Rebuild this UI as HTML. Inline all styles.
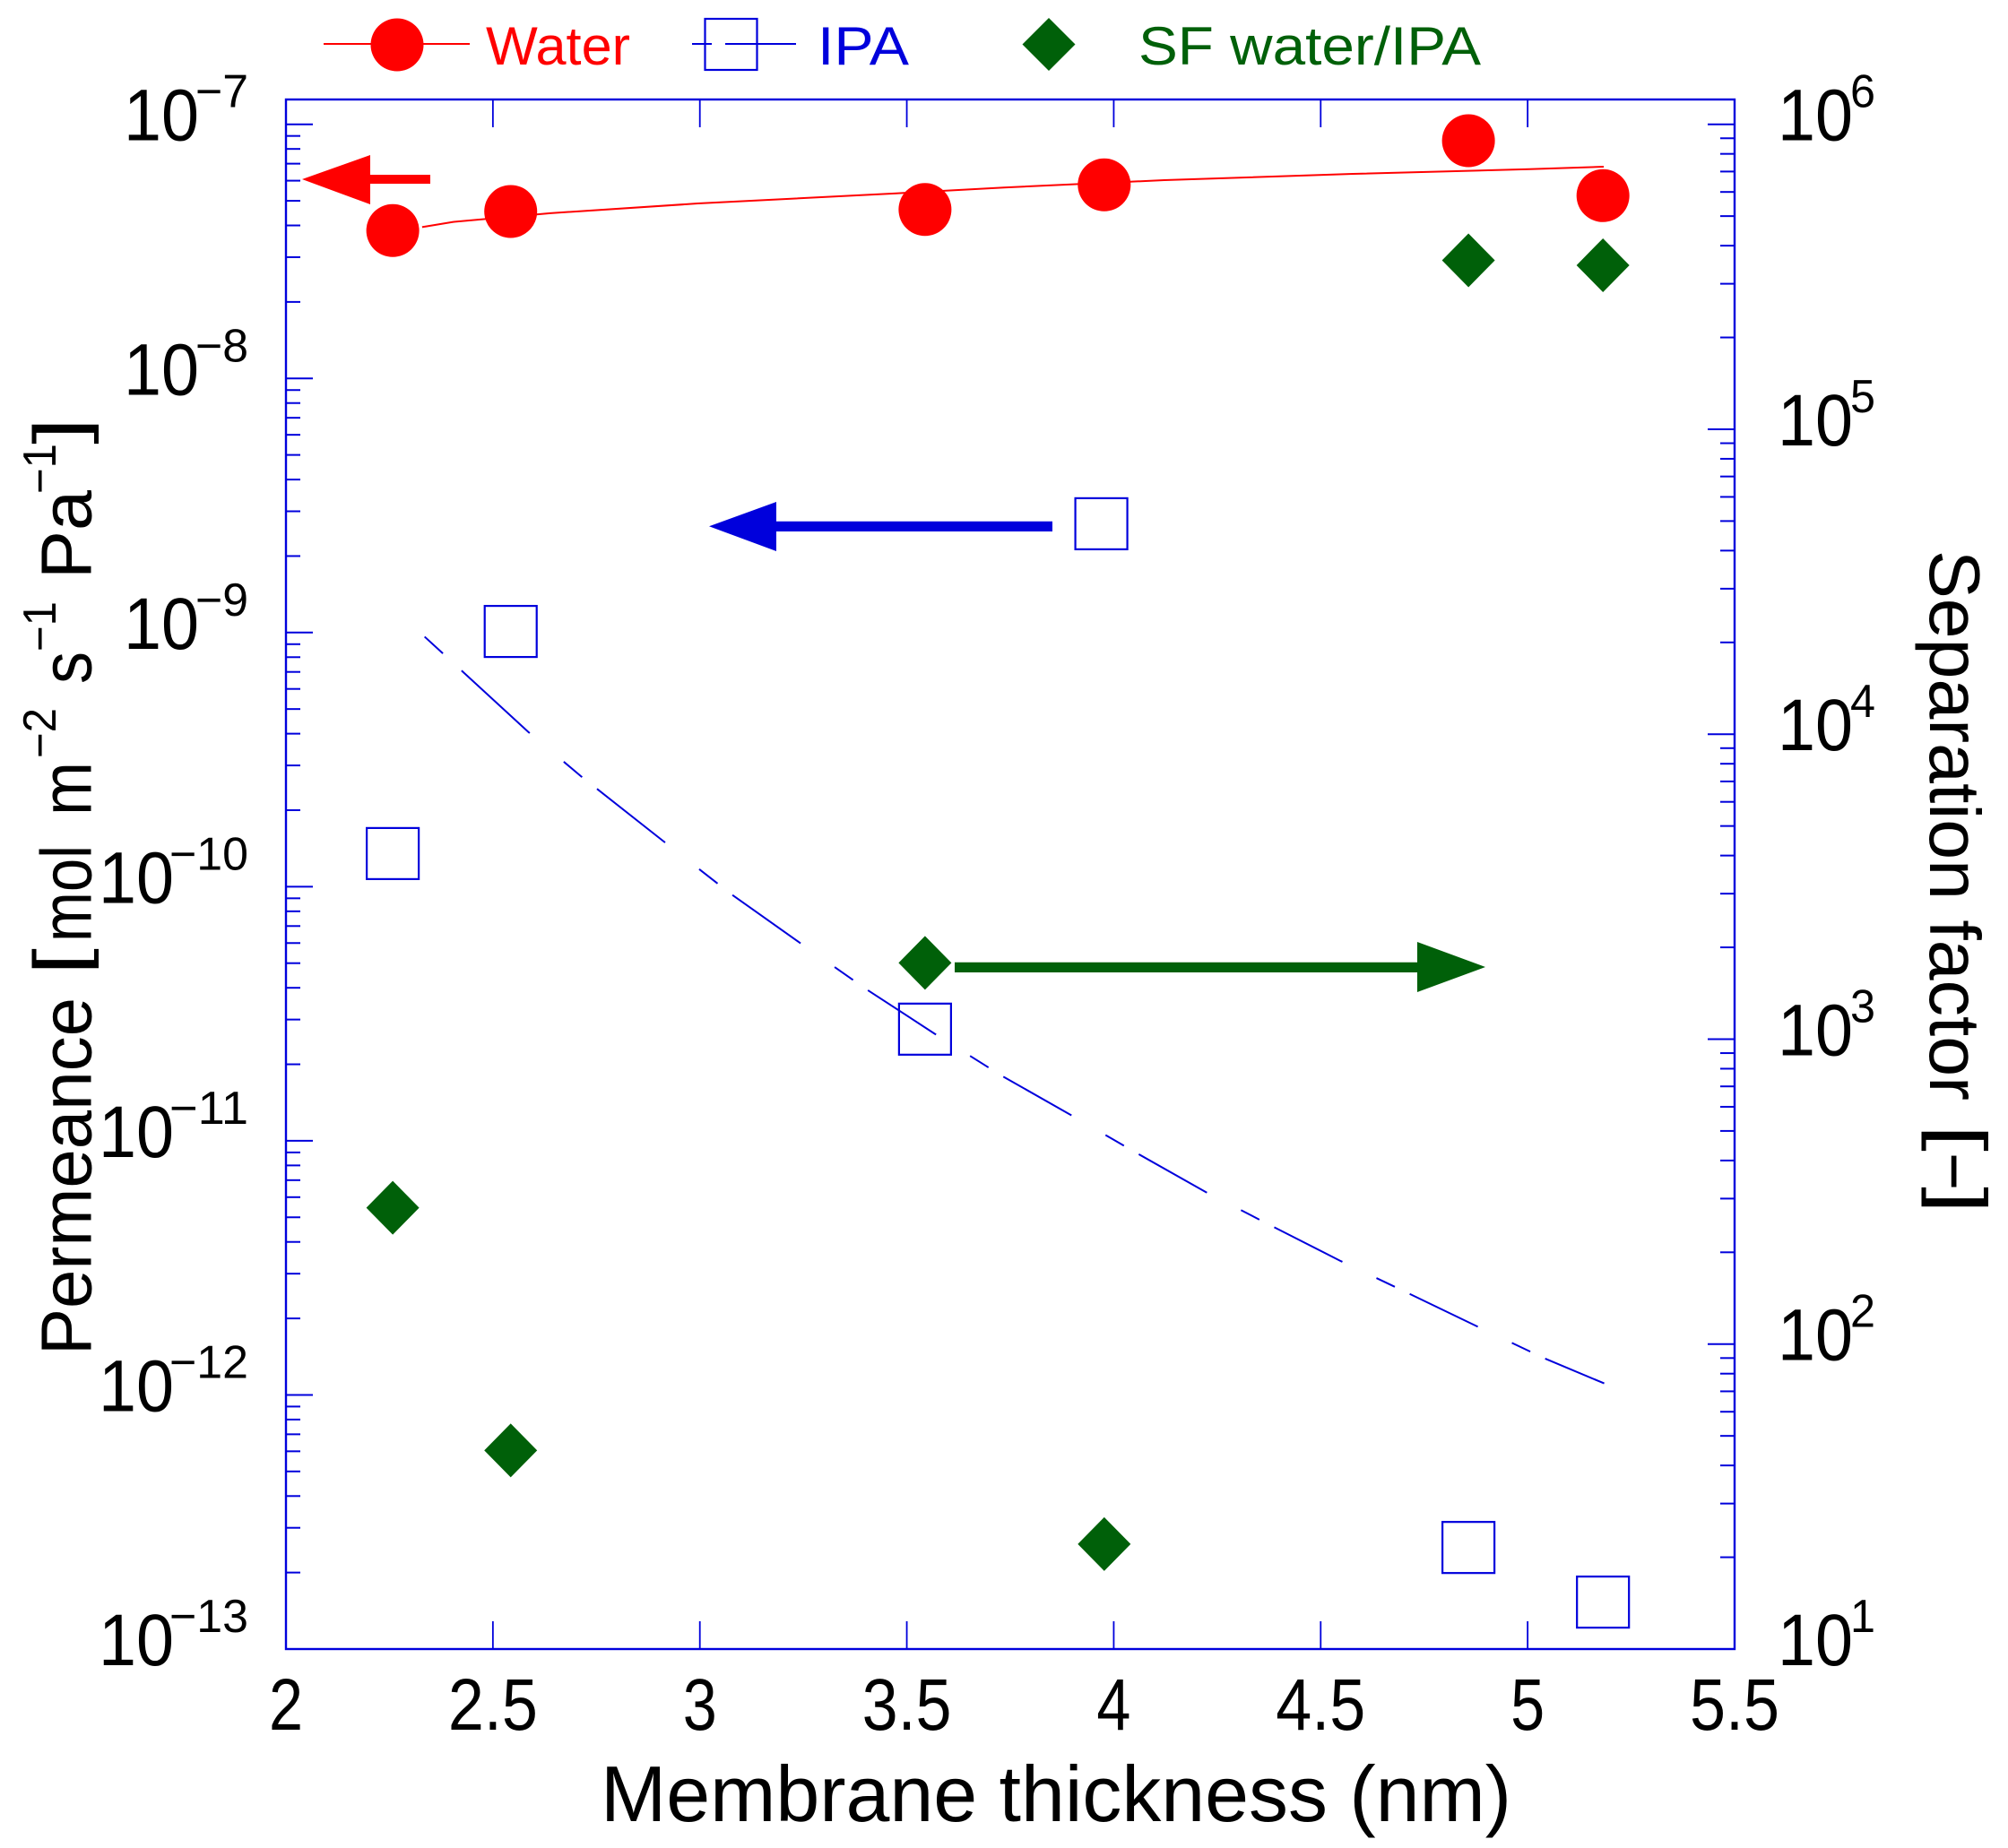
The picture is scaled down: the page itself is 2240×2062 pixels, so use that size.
<!DOCTYPE html>
<html lang="en">
<head>
<meta charset="utf-8">
<title>Permeance and separation factor vs membrane thickness</title>
<style>
html,body{margin:0;padding:0;background:#fff}
svg{display:block}
text{font-family:"Liberation Sans",sans-serif}
</style>
</head>
<body>
<svg id="chart" xmlns="http://www.w3.org/2000/svg" width="2240" height="2062" viewBox="0 0 2240 2062">
  <rect x="0" y="0" width="2240" height="2062" fill="#fff"/>

  <g>
    <g>
      <line x1="361" y1="49" x2="524" y2="49" stroke="#ff0000" stroke-width="2"/>
      <circle cx="443" cy="50" r="29.5" fill="#ff0000"/>
      <text x="542" y="72" font-size="60" fill="#ff0000" textLength="161" lengthAdjust="spacingAndGlyphs">Water</text>
    </g>
    <g>
      <line x1="772" y1="49" x2="794" y2="49" stroke="#0000dc" stroke-width="2"/>
      <line x1="809" y1="49" x2="888" y2="49" stroke="#0000dc" stroke-width="2"/>
      <rect x="786.5" y="21" width="58" height="57" fill="none" stroke="#0000dc" stroke-width="2.2"/>
      <text x="912" y="72" font-size="60" fill="#0000dc" textLength="102" lengthAdjust="spacingAndGlyphs">IPA</text>
    </g>
    <g>
      <polygon points="1170,20 1199.500,49.500 1170,79 1140.500,49.500" fill="#006009"/>
      <text x="1270" y="72" font-size="60" fill="#006009" textLength="382" lengthAdjust="spacingAndGlyphs">SF water/IPA</text>
    </g>
  </g>

  <g id="axes"></g>
  <g id="series"></g>

  <g>
    <polygon points="337,200 413,173 413,195 480,195 480,205 413,205 413,228" fill="#ff0000"/>
    <polygon points="791,587.300 866,560 866,581.700 1174,581.700 1174,593 866,593 866,615" fill="#0000dc"/>
    <polygon points="1657,1079 1581,1051 1581,1073.700 1065,1073.700 1065,1085 1581,1085 1581,1107" fill="#006009"/>
  </g>

  <text x="670" y="2032" font-size="88" fill="#000" textLength="1016" lengthAdjust="spacingAndGlyphs">Membrane thickness (nm)</text>

  <g fill="#000">
    <text transform="translate(101.700,1512) rotate(-90)" font-size="80" textLength="399" lengthAdjust="spacingAndGlyphs">Permeance</text>
    <text transform="translate(93.700,1088) rotate(-90)" font-size="80" textLength="30" lengthAdjust="spacingAndGlyphs">[</text>
    <text transform="translate(101.700,1051) rotate(-90)" font-size="80" textLength="108" lengthAdjust="spacingAndGlyphs">mol</text>
    <text transform="translate(101.700,910) rotate(-90)" font-size="80" textLength="60" lengthAdjust="spacingAndGlyphs">m</text>
    <text transform="translate(62,846) rotate(-90)" font-size="52" textLength="56" lengthAdjust="spacingAndGlyphs">−2</text>
    <text transform="translate(101.700,763) rotate(-90)" font-size="80" textLength="36" lengthAdjust="spacingAndGlyphs">s</text>
    <text transform="translate(62,727) rotate(-90)" font-size="52" textLength="56" lengthAdjust="spacingAndGlyphs">−1</text>
    <text transform="translate(101.700,646) rotate(-90)" font-size="80" textLength="99" lengthAdjust="spacingAndGlyphs">Pa</text>
    <text transform="translate(62,551) rotate(-90)" font-size="52" textLength="56" lengthAdjust="spacingAndGlyphs">−1</text>
    <text transform="translate(93.700,496) rotate(-90)" font-size="80" textLength="30" lengthAdjust="spacingAndGlyphs">]</text>
  </g>

  <g fill="#000">
    <text transform="translate(2153,614) rotate(90)" font-size="80" textLength="614" lengthAdjust="spacingAndGlyphs">Separation factor</text>
    <text transform="translate(2160,1255) rotate(90)" font-size="80" textLength="30" lengthAdjust="spacingAndGlyphs">[</text>
    <text transform="translate(2153,1286) rotate(90)" font-size="80" textLength="42" lengthAdjust="spacingAndGlyphs">−</text>
    <text transform="translate(2160,1324) rotate(90)" font-size="80" textLength="30" lengthAdjust="spacingAndGlyphs">]</text>
  </g>
</svg>
<script>
// ---- chart data ----
const thickness = [2.258, 2.543, 3.544, 3.977, 4.857, 5.182];
const ipaThickness = [2.258, 2.543, 3.544, 3.970, 4.857, 5.182];
const waterPermeance = [3.82e-8, 4.54e-8, 4.62e-8, 5.78e-8, 8.62e-8, 5.24e-8];
const ipaPermeance = [1.35e-10, 1.01e-9, 2.75e-11, 2.68e-9, 2.51e-13, 1.53e-13];
const separationFactor = [280, 44.8, 1779, 22.1, 3.58e5, 3.45e5];

const waterFitThickness = [2.329, 2.404, 2.639, 2.995, 3.475, 3.735, 4.122, 4.578, 5.004, 5.184];
const waterFitPermeance = [3.94e-8, 4.13e-8, 4.47e-8, 4.88e-8, 5.35e-8, 5.64e-8, 6.03e-8, 6.38e-8, 6.66e-8, 6.81e-8];

const ipaFitThickness = [2.335, 2.424, 2.585, 2.714, 2.912, 3.074, 3.240, 3.398, 3.567, 3.730, 3.894, 4.058, 4.222, 4.383, 4.549, 4.708, 4.878, 5.042, 5.185];
const ipaFitPermeance = [9.63e-10, 7.09e-10, 4.07e-10, 2.71e-10, 1.51e-10, 9.39e-11, 6.04e-11, 3.99e-11, 2.64e-11, 1.80e-11, 1.27e-11, 8.90e-12, 6.29e-12, 4.61e-12, 3.36e-12, 2.53e-12, 1.86e-12, 1.39e-12, 1.11e-12];

const xTickValues = [2, 2.5, 3, 3.5, 4, 4.5, 5, 5.5];
const xTickLabels = ['2', '2.5', '3', '3.5', '4', '4.5', '5', '5.5'];
const leftDecades = [-7, -8, -9, -10, -11, -12, -13];
const rightDecades = [6, 5, 4, 3, 2, 1];
const minorMultipliers = [2, 3, 4, 5, 6, 7, 8, 9];

// ---- axis functions ----
const PLOT_L = 319, PLOT_R = 1935, PLOT_T = 111, PLOT_B = 1840;
const AXIS_BLUE = '#0000dc', RED = '#ff0000', GREEN = '#006009';
const xScale = t => PLOT_L + (t - 2) * (PLOT_R - PLOT_L) / 3.5;
const yLeft = v => 138.7 + (-7 - Math.log10(v)) * 283.55;
const yRight = v => 138.7 + (6 - Math.log10(v)) * 340.26;

const SVGNS = 'http://www.w3.org/2000/svg';
const axes = document.getElementById('axes');
const series = document.getElementById('series');
function mk(parent, tag, attrs, txt) {
  const el = document.createElementNS(SVGNS, tag);
  for (const k in attrs) el.setAttribute(k, attrs[k]);
  if (txt !== undefined) el.textContent = txt;
  parent.appendChild(el);
  return el;
}

// ---- frame ----
let el = mk(axes, 'rect', {x: PLOT_L, y: PLOT_T, width: PLOT_R - PLOT_L, height: PLOT_B - PLOT_T, fill: 'none', stroke: AXIS_BLUE, 'stroke-width': 2.4});



// ---- x ticks ----
xTickValues.forEach((t, i) => {
  const x = xScale(t);
  if (t > 2 && t < 5.5) {
    let tk = mk(axes, 'line', {x1: x, x2: x, y1: PLOT_T, y2: PLOT_T + 31, stroke: AXIS_BLUE, 'stroke-width': 1.8});
    
    
    tk = mk(axes, 'line', {x1: x, x2: x, y1: PLOT_B, y2: PLOT_B - 31, stroke: AXIS_BLUE, 'stroke-width': 1.8});
    
    
  }
  const s = xTickLabels[i];
  const lab = mk(axes, 'text', {x: x, y: 1930, 'text-anchor': 'middle', 'font-size': 82, fill: '#000', textLength: s.length > 1 ? 100 : 38, lengthAdjust: 'spacingAndGlyphs'}, s);
  
  
});

// ---- y ticks (left = permeance, right = separation factor) ----
function yTicks(decades, scale, xAxis, dir, side) {
  decades.forEach(d => {
    const major = mk(axes, 'line', {x1: xAxis, x2: xAxis + dir * 30, y1: scale(Math.pow(10, d)), y2: scale(Math.pow(10, d)), stroke: AXIS_BLUE, 'stroke-width': 2});
    
    
    if (d === decades[0]) return;
    minorMultipliers.forEach(m => {
      const y = scale(m * Math.pow(10, d));
      const minor = mk(axes, 'line', {x1: xAxis, x2: xAxis + dir * 16, y1: y, y2: y, stroke: AXIS_BLUE, 'stroke-width': 2});
      
      
    });
  });
}
yTicks(leftDecades, yLeft, PLOT_L, 1, 'left');
yTicks(rightDecades, yRight, PLOT_R, -1, 'right');

// ---- y tick labels ----
leftDecades.forEach(d => {
  const y = yLeft(Math.pow(10, d));
  const expStr = '−' + Math.abs(d);
  const two = Math.abs(d) >= 10;
  const base = mk(axes, 'text', {x: two ? 110 : 138, y: y + 18, 'font-size': 82, fill: '#000', textLength: 84, lengthAdjust: 'spacingAndGlyphs'}, '10');
  
  
  const exp = mk(axes, 'text', {x: 277, y: y - 19, 'text-anchor': 'end', 'font-size': 52, fill: '#000', textLength: two ? 88 : 59, lengthAdjust: 'spacingAndGlyphs'}, expStr);
  
  
});
rightDecades.forEach(d => {
  const y = yRight(Math.pow(10, d));
  const base = mk(axes, 'text', {x: 1983, y: y + 18, 'font-size': 82, fill: '#000', textLength: 84, lengthAdjust: 'spacingAndGlyphs'}, '10');
  
  
  const exp = mk(axes, 'text', {x: 2064, y: y - 19, 'font-size': 52, fill: '#000', textLength: 28, lengthAdjust: 'spacingAndGlyphs'}, String(d));
  
  
});

// ---- fit lines ----
const waterFitPoints = waterFitThickness.map((t, i) => xScale(t) + ',' + yLeft(waterFitPermeance[i])).join(' ');
const waterFit = mk(series, 'polyline', {points: waterFitPoints, fill: 'none', stroke: RED, 'stroke-width': 2});



// The IPA fit is dashed with a pattern measured along the horizontal axis.
function curveAt(px, xs, ys) {
  for (let i = 1; i < xs.length; i++) {
    if (px <= xs[i]) {
      const f = (px - xs[i - 1]) / (xs[i] - xs[i - 1]);
      return ys[i - 1] + f * (ys[i] - ys[i - 1]);
    }
  }
  return ys[ys.length - 1];
}
const ipaPx = ipaFitThickness.map(xScale);
const ipaPy = ipaFitPermeance.map(yLeft);
function drawIpaDash(a, b) {
  const end = Math.min(b, ipaPx[ipaPx.length - 1]);
  const pts = [[a, curveAt(a, ipaPx, ipaPy)]];
  ipaPx.forEach((x, i) => { if (x > a && x < end) pts.push([x, ipaPy[i]]); });
  pts.push([end, curveAt(end, ipaPx, ipaPy)]);
  const dash = mk(series, 'polyline', {points: pts.map(p => p.join(',')).join(' '), fill: 'none', stroke: AXIS_BLUE, 'stroke-width': 2});
  
  
}
let cursor = ipaPx[0];
drawIpaDash(cursor, cursor + 20.4);
cursor += 41.2;
const dashCycle = [76, 38, 20.5, 16.6];
while (cursor < ipaPx[ipaPx.length - 1]) {
  drawIpaDash(cursor, cursor + dashCycle[0]);
  cursor += dashCycle[0] + dashCycle[1];
  if (cursor >= ipaPx[ipaPx.length - 1]) break;
  drawIpaDash(cursor, cursor + dashCycle[2]);
  cursor += dashCycle[2] + dashCycle[3];
}

// ---- markers ----
thickness.forEach((t, i) => {
  const x = xScale(t);
  const c = mk(series, 'circle', {cx: x, cy: yLeft(waterPermeance[i]), r: 29.5, fill: RED});
  
  
  const xI = xScale(ipaThickness[i]);
  const yI = yLeft(ipaPermeance[i]);
  const sq = mk(series, 'rect', {x: xI - 29, y: yI - 28.5, width: 58, height: 57, fill: 'none', stroke: AXIS_BLUE, 'stroke-width': 2.2});
  
  
  const yS = yRight(separationFactor[i]);
  const d = mk(series, 'polygon', {points: [[x, yS - 30], [x + 29.5, yS], [x, yS + 30], [x - 29.5, yS]].map(p => p.join(',')).join(' '), fill: GREEN});
  
  
});
</script>
</body>
</html>
